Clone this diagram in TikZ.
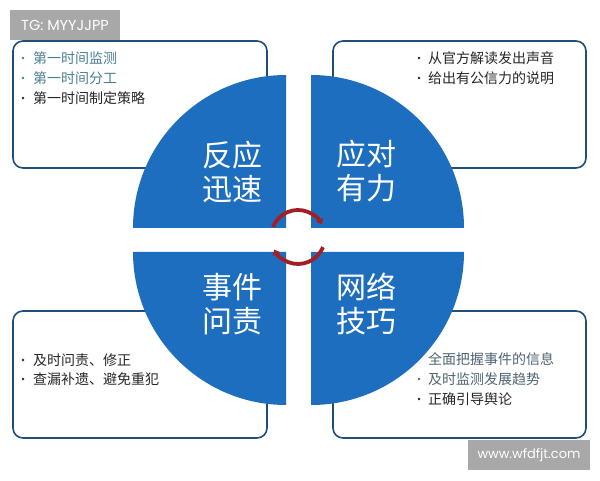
\documentclass[tikz,border=0pt]{standalone}
\usepackage{fontspec}
\newfontfamily\cjk{Noto Sans CJK SC}
\newfontfamily\wmfont{Poppins}
\usetikzlibrary{arrows.meta}
\definecolor{qblue}{HTML}{1E6EC0}
\definecolor{boxline}{HTML}{1F4E79}
\definecolor{teal1}{HTML}{4A7F92}
\definecolor{grey1}{HTML}{4F6472}
\definecolor{dtext}{HTML}{262626}
\definecolor{arcred}{HTML}{A31F24}
\definecolor{wmgrey}{HTML}{A8A8A8}
\tikzset{
  infobox/.style={draw=boxline, line width=1.6pt, fill=white, rounded corners=10pt},
  quad/.style={fill=qblue},
  qlabel/.style={text=white, font=\cjk\fontsize{30}{34}\selectfont, align=center, inner sep=0pt},
  itemtext/.style={anchor=west, inner sep=0pt, font=\cjk\fontsize{14}{16}\selectfont},
  cyc/.style={draw=arcred, line width=3.8pt, -{Triangle[length=5pt,width=8pt]}},
  wmbox/.style={fill=wmgrey, text=white, inner sep=0pt}
}
\begin{document}
\begin{tikzpicture}[x=1pt,y=1pt]
\useasboundingbox[fill=white] (0,0) rectangle (600,480);
% boxes
\draw[infobox] (13,312) rectangle (267,439);
\draw[infobox] (333,312) rectangle (586,439);
\draw[infobox] (13,42) rectangle (267,169);
\draw[infobox] (333,42) rectangle (586,169);
% top-left items
\fill[teal1] (23,422) circle (1.3pt);
\node[itemtext, text=teal1] (tl1) at (33,422) {第一时间监测};
\fill[teal1] (23,402) circle (1.3pt);
\node[itemtext, text=teal1] (tl2) at (33,402) {第一时间分工};
\fill[dtext] (23,382) circle (1.3pt);
\node[itemtext, text=dtext] (tl3) at (33,382) {第一时间制定策略};
% top-right items
\fill[dtext] (419,422) circle (1.3pt);
\node[itemtext, text=dtext] (tr1) at (428,422) {从官方解读发出声音};
\fill[dtext] (419,402) circle (1.3pt);
\node[itemtext, text=dtext] (tr2) at (428,402) {给出有公信力的说明};
% bottom-left items
\fill[dtext] (23,120) circle (1.3pt);
\node[itemtext, text=dtext] (bl1) at (33,120) {及时问责、修正};
\fill[dtext] (23,101) circle (1.3pt);
\node[itemtext, text=dtext] (bl2) at (33,101) {查漏补遗、避免重犯};
% bottom-right items
\node[itemtext, text=grey1] (br1) at (428,121) {全面把握事件的信息};
\fill[grey1] (419,101) circle (1.3pt);
\node[itemtext, text=grey1] (br2) at (428,101) {及时监测发展趋势};
\fill[dtext] (419,81) circle (1.3pt);
\node[itemtext, text=dtext] (br3) at (428,81) {正确引导舆论};
% quadrants
\fill[quad] (286,252) -- ++(-153,0) arc[start angle=180, end angle=90, radius=153] -- cycle;
\fill[quad] (311,252) -- ++(0,153) arc[start angle=90, end angle=0, radius=153] -- cycle;
\fill[quad] (286,228) -- ++(-153,0) arc[start angle=180, end angle=270, radius=153] -- cycle;
\fill[quad] (311,228) -- ++(153,0) arc[start angle=0, end angle=-90, radius=153] -- cycle;
% quadrant labels
\node[qlabel] (q1) at (232,308.5) {反应\\迅速};
\node[qlabel] (q2) at (366,308.5) {应对\\有力};
\node[qlabel] (q3) at (232,176) {事件\\问责};
\node[qlabel] (q4) at (366,176) {网络\\技巧};
% cycle arrows
\coordinate (c) at (298,243);
\draw[cyc] ([shift={(158:27)}]c) arc[start angle=158, end angle=28, radius=27];
\draw[cyc] ([shift={(-22:27)}]c) arc[start angle=-22, end angle=-152, radius=27];
% watermarks
\node[wmbox, minimum width=110pt, minimum height=30pt, font=\wmfont\fontsize{14.5}{16}\selectfont] (wm1) at (65,455) {TG: MYYJJPP};
\node[wmbox, minimum width=122pt, minimum height=30pt, font=\wmfont\fontsize{13}{15}\selectfont] (wm2) at (529,25) {www.wfdfjt.com};
\end{tikzpicture}
\end{document}
